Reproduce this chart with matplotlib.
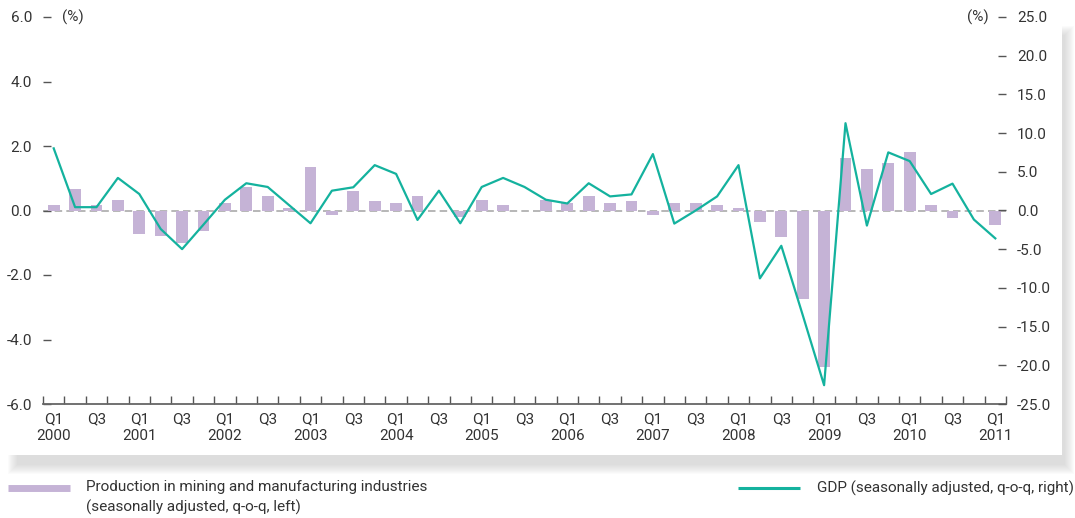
import matplotlib
matplotlib.use("Agg")
import matplotlib.pyplot as plt
from matplotlib import font_manager
from matplotlib.lines import Line2D
from matplotlib.patches import Rectangle

# quarterly data, 2000Q1 .. 2011Q1
years = list(range(2000, 2012))
quarters = ["Q1", "Q2", "Q3", "Q4"]
production = [0.16, 0.66, 0.16, 0.34, -0.74, -0.80, -1.02, -0.65, 0.22, 0.72, 0.44,
              0.09, 1.34, -0.15, 0.59, 0.31, 0.22, 0.44, 0.0, -0.21, 0.34, 0.16,
              0.0, 0.34, 0.22, 0.44, 0.22, 0.31, -0.15, 0.22, 0.22, 0.16, 0.09,
              -0.36, -0.83, -2.74, -4.86, 1.63, 1.28, 1.47, 1.81, 0.16, -0.24, 0.0, -0.46]
gdp = [8.03, 0.43, 0.43, 4.21, 2.13, -2.39, -4.99, -1.82, 1.39, 3.52, 3.04,
       0.69, -1.65, 2.56, 3.0, 5.86, 4.73, -1.22, 2.56, -1.65, 3.04, 4.21,
       3.04, 1.39, 0.91, 3.52, 1.82, 2.08, 7.29, -1.69, 0.0, 1.82, 5.86,
       -8.77, -4.56, -13.5, -22.57, 11.28, -1.95, 7.51, 6.38, 2.13, 3.47, -1.17, -3.6]
left_ticks = [-6, -4, -2, 0, 2, 4, 6]
right_ticks = [-25, -20, -15, -10, -5, 0, 5, 10, 15, 20, 25]
bar_label = "Production in mining and manufacturing industries\n(seasonally adjusted, q-o-q, left)"
line_label = "GDP (seasonally adjusted, q-o-q, right)"

BAR_C = "#c5b3d6"
LINE_C = "#14b29e"
TXT_C = "#333333"
TICK_C = "#555555"

installed = {f.name for f in font_manager.fontManager.ttflist}
fam = [f for f in ["Liberation Sans Narrow", "Roboto", "DejaVu Sans"] if f in installed]
plt.rcParams["font.family"] = fam + ["DejaVu Sans"]
plt.rcParams["axes.unicode_minus"] = False

W, H = 1075, 518
fig = plt.figure(figsize=(W / 100, H / 100), dpi=100)


def fx(x):
    return x / W


def fy(y):
    # pixel row from top -> figure fraction
    return 1 - y / H


# soft shadow behind white panel
for k in range(10):
    fig.patches.append(Rectangle((fx(8 + k), fy(474 - k)), fx(1066 - 2 * k), (448 - 2 * k) / H,
                                 transform=fig.transFigure, facecolor="#9a9a9a",
                                 edgecolor="none", alpha=0.035, zorder=-2))
fig.patches.append(Rectangle((0, fy(455)), fx(1062), 455 / H, transform=fig.transFigure,
                             facecolor="white", edgecolor="none", zorder=-1))

ax = fig.add_axes([fx(43), fy(404), fx(1006 - 43), (404 - 17) / H])
ax.set_facecolor("none")
n = len(production)
xs = list(range(n))

ax.bar(xs, production, width=0.56, color=BAR_C, zorder=2)
ax.axhline(0, color="#aaaaaa", lw=1.2, ls=(0, (4.5, 2.5)), zorder=1)
ax.set_xlim(-0.5, n - 0.5)
ax.set_ylim(-6, 6)
ax.set_yticks(left_ticks)
ax.set_yticklabels([f"{v:.1f}" for v in left_ticks])

for s in ["top", "left", "right"]:
    ax.spines[s].set_visible(False)
ax.spines["bottom"].set_color("#666666")
ax.spines["bottom"].set_linewidth(1.3)

ax.set_xticks([i - 0.5 for i in range(n + 1)])
ax.set_xticklabels([])
lab_pos, lab_txt = [], []
for i in range(n):
    yr, q = years[i // 4], quarters[i % 4]
    if q == "Q1":
        lab_pos.append(i)
        lab_txt.append(f"Q1\n{yr}")
    elif q == "Q3":
        lab_pos.append(i)
        lab_txt.append("Q3")
ax.set_xticks(lab_pos, minor=True)
ax.set_xticklabels(lab_txt, minor=True)
ax.tick_params(axis="x", which="major", direction="in", length=6, width=1, color="#555555")
ax.tick_params(axis="x", which="minor", length=0, pad=6, labelsize=11, labelcolor=TXT_C)
ax.tick_params(axis="y", direction="in", length=6, width=1, color=TICK_C, pad=8,
               labelsize=11, labelcolor=TXT_C)

ax2 = ax.twinx()
ax2.plot(xs, gdp, color=LINE_C, lw=1.6, zorder=3)
ax2.set_ylim(-25, 25)
ax2.set_yticks(right_ticks)
ax2.set_yticklabels([f"{v:.1f}" for v in right_ticks])
for s in ["top", "left", "right", "bottom"]:
    ax2.spines[s].set_visible(False)
ax2.tick_params(axis="y", direction="in", length=6, width=1, color=TICK_C, pad=8,
                labelsize=11, labelcolor=TXT_C)

fig.text(fx(62), fy(17), "(%)", fontsize=11, color=TXT_C, va="center", ha="left")
fig.text(fx(989), fy(17), "(%)", fontsize=11, color=TXT_C, va="center", ha="right")

# legend, drawn by hand below the panel
fig.add_artist(Line2D([fx(8), fx(70)], [fy(488), fy(488)], transform=fig.transFigure,
                      color=BAR_C, lw=5, solid_capstyle="butt"))
fig.text(fx(86), fy(480), bar_label, fontsize=11, color=TXT_C, va="top", ha="left",
         linespacing=1.45)
fig.add_artist(Line2D([fx(738), fx(800)], [fy(488), fy(488)], transform=fig.transFigure,
                      color=LINE_C, lw=2.2, solid_capstyle="butt"))
fig.text(fx(817), fy(488), line_label, fontsize=11, color=TXT_C, va="center", ha="left")

fig.savefig("out.png", dpi=100)
